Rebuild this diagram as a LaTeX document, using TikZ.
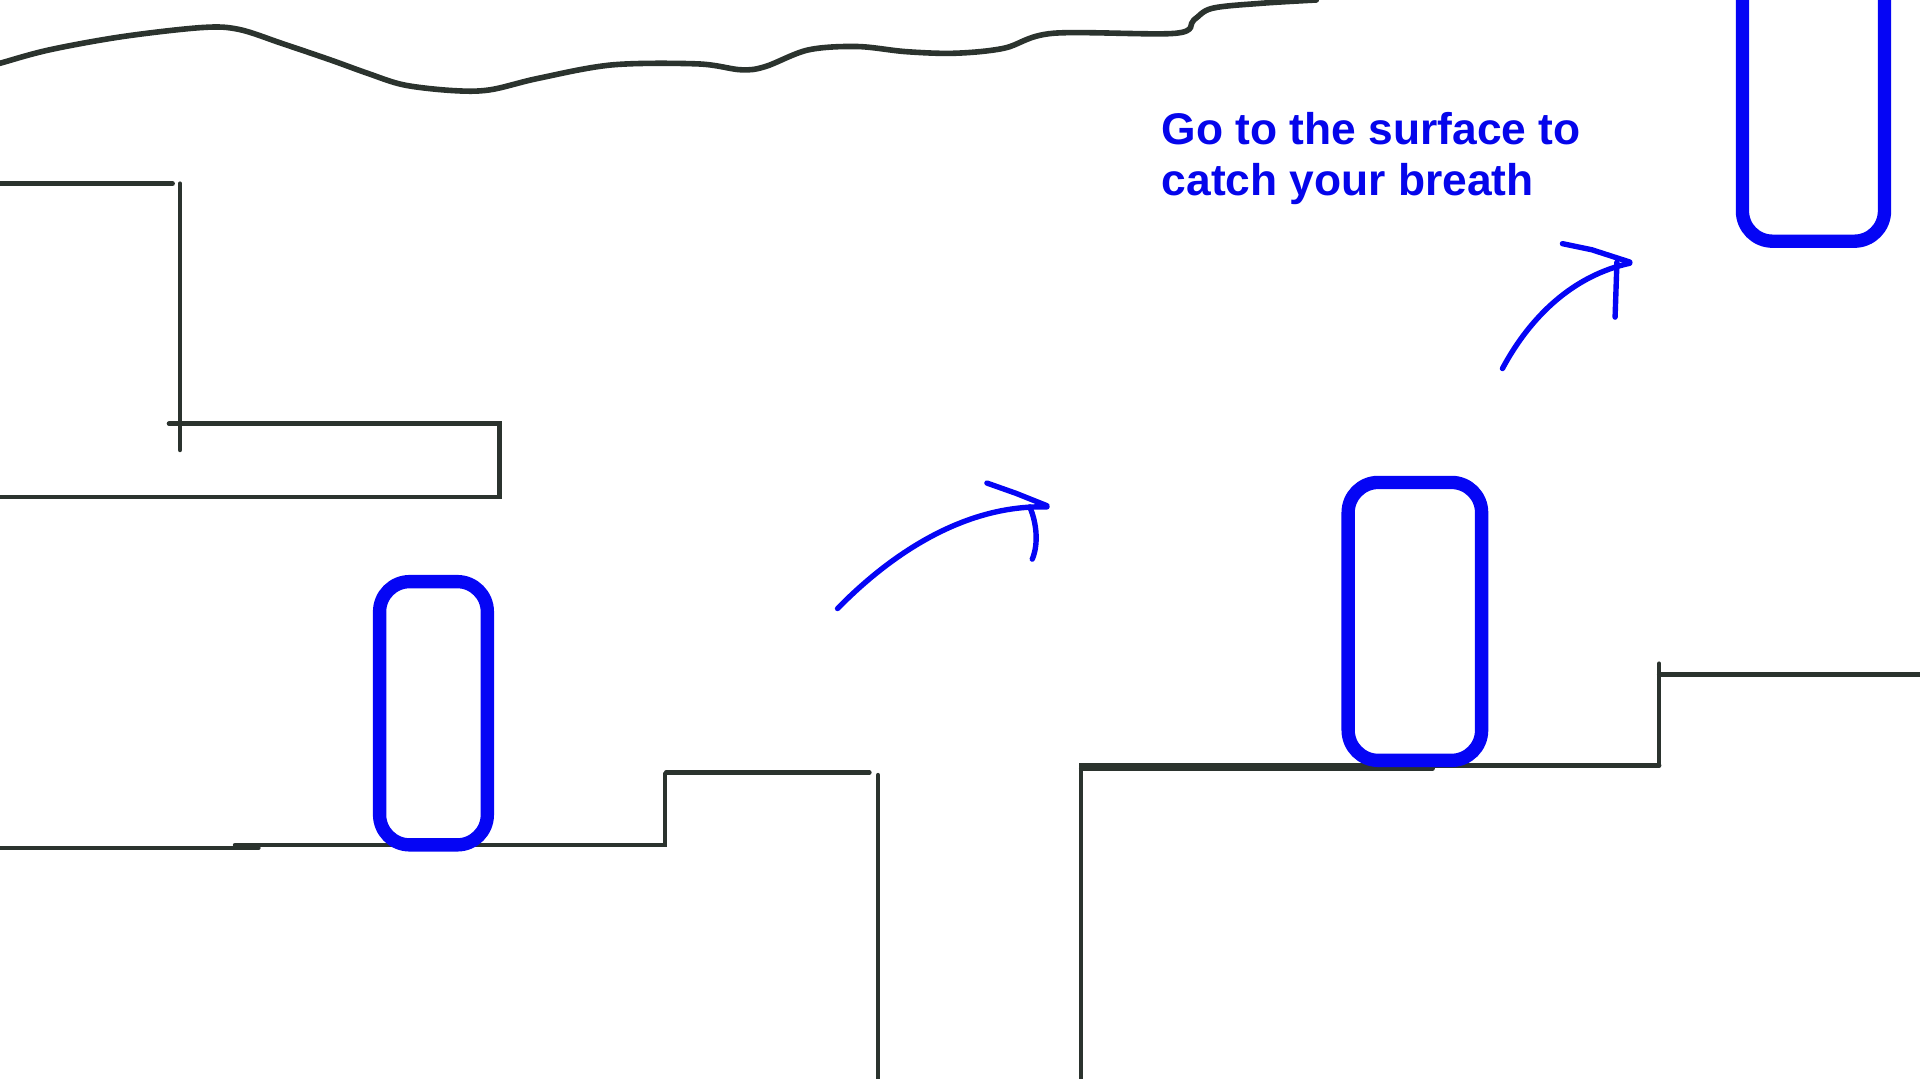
\documentclass[tikz,border=0pt]{standalone}
\usepackage{fontspec}
\setmainfont{Liberation Sans}
\begin{document}
\begin{tikzpicture}[x=0.01cm,y=-0.01cm,
  wall/.style={draw={rgb,255:red,43;green,51;blue,46},line width=1.05pt,line cap=round,line join=miter},
  pod/.style={draw={rgb,255:red,5;green,5;blue,245},line width=3.1pt,rounded corners=7pt},
  pen/.style={draw={rgb,255:red,5;green,5;blue,245},line width=1.25pt,line cap=round,line join=round},
  note/.style={text={rgb,255:red,5;green,5;blue,235},font=\bfseries\fontsize{10.3}{11.8}\selectfont,align=left,inner sep=0pt,anchor=north west}]
\useasboundingbox (0,0) rectangle (1568,881.2);
\clip (0,0) rectangle (1568,881.2);
% surface
\draw[wall,line width=1.3pt] plot[smooth,tension=0.55] coordinates {(-5,53) (0,51.7) (40,40.8) (100,29.9) (165,22.5) (195,24) (230,35.4) (270,49) (300,59.8) (330,69.4) (370,74) (400,73.4) (440,63.9) (500,53) (570,52.2) (605,57) (625,54.4) (660,40.8) (700,38) (740,42.2) (780,43.5) (820,39.4) (860,27.2) (960,27.2) (975,16.3) (990,6.8) (1030,2.7) (1075,0)};
% upper left structure
\draw[wall] (0,150) -- (141,150);
\draw[wall] (147,150) -- (147,367.5);
\draw[wall] (138,346) -- (408,346) -- (408,406) -- (0,406);
% lower left ground
\draw[wall] (0,692.7) -- (211,692.7);
\draw[wall] (192,690) -- (543,690) -- (543,632);
\draw[wall] (544,631) -- (710,631);
\draw[wall] (717,633) -- (717,895);
% right ground
\draw[wall] (883,895) -- (883,625) -- (1355,625);
\draw[wall] (883,627.5) -- (1170,627.5);
\draw[wall] (1355,542) -- (1355,625);
\draw[wall] (1355,551) -- (1575,551);
% pods
\draw[pod] (310,475) rectangle (398,690);
\draw[pod] (1101,394) rectangle (1210,621);
\draw[pod] (1423,-40) rectangle (1539,197);
% arrows
\draw[pen] (684,497) .. controls (730,450) and (790,412) .. (855,414);
\draw[pen] (806,394.5) -- (830,403) -- (855,413);
\draw[pen] (841,414) .. controls (847,428) and (848,445) .. (843,456.7);
\draw[pen] (1227,301) .. controls (1250,258) and (1285,225) .. (1331,215);
\draw[pen] (1276,199) -- (1300,204) -- (1331,214);
\draw[pen] (1320.5,214) -- (1319,259);
% text
\node[note] (msg) at (948,91) {Go to the surface to\\catch your breath};
\end{tikzpicture}
\end{document}
